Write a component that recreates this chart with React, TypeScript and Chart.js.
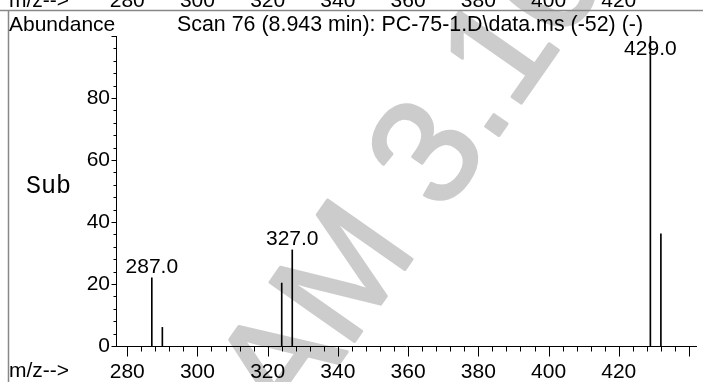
import React, { useEffect, useRef } from 'react';
import { Chart, registerables } from 'chart.js';

Chart.register(...registerables);

// ---- data ----
const peakMz = [287, 290, 324, 327, 429, 432];
const peakAbundance = [22, 6, 20.3, 31, 100, 36.2];
const labeledPeaks = [287, 327, 429];
const xTickLabels = [280, 300, 320, 340, 360, 380, 400, 420];
const yTickLabels = [0, 20, 40, 60, 80];
const titleText = 'Scan 76 (8.943 min): PC-75-1.D\\data.ms (-52) (-)';
const yAxisTitle = 'Abundance';
const xAxisTitle = 'm/z-->';
const sideLabel = 'Sub';
const watermarkText = 'AM 3.10';

// ---- axis config ----
const X_MIN = 276.8;
const X_MAX = 442;
const Y_MIN = 0;
const Y_MAX = 100;
const X_TICK_FIRST = 280;
const X_TICK_LAST = 440;
const MINOR_STEP = 4;
const MAJOR_STEP = 20;

const FONT = '"Liberation Sans", Arial, Helvetica, sans-serif';
const MONO = '"Liberation Mono", "Courier New", monospace';

function stepTicks(from: number, to: number, step: number) {
  const out: { value: number }[] = [];
  for (let v = from; v <= to + 1e-9; v += step) out.push({ value: v });
  return out;
}

const decor = {
  id: 'decor',
  beforeDraw(chart: any) {
    const ctx = chart.ctx as CanvasRenderingContext2D;
    ctx.save();
    ctx.fillStyle = '#ffffff';
    ctx.fillRect(0, 0, chart.width, chart.height);
    // watermark
    const size = 150;
    ctx.font = `${size}px ${FONT}`;
    ctx.fillStyle = '#cccccc';
    ctx.strokeStyle = '#cccccc';
    ctx.lineWidth = 3;
    ctx.lineJoin = 'round';
    ctx.translate(423, 150);
    ctx.rotate((-55 * Math.PI) / 180);
    const pre = ctx.measureText('AM ').width + ctx.measureText('3').width / 2;
    ctx.textBaseline = 'alphabetic';
    ctx.textAlign = 'left';
    ctx.fillText(watermarkText, -pre, (size * 0.716) / 2);
    ctx.strokeText(watermarkText, -pre, (size * 0.716) / 2);
    ctx.restore();
  },
  afterDraw(chart: any) {
    const ctx = chart.ctx as CanvasRenderingContext2D;
    const xs = chart.scales.x;
    const ys = chart.scales.y;
    ctx.save();
    // frame lines
    ctx.strokeStyle = '#888888';
    ctx.lineWidth = 1.5;
    ctx.beginPath();
    ctx.moveTo(0, 10.5);
    ctx.lineTo(chart.width, 10.5);
    ctx.moveTo(8.5, 10.5);
    ctx.lineTo(8.5, chart.height);
    ctx.stroke();

    // tick marks
    ctx.strokeStyle = '#000';
    ctx.lineWidth = 1;
    ctx.beginPath();
    const axisY = Math.round(ys.getPixelForValue(Y_MIN)) + 0.5;
    for (const t of xs.ticks) {
      const px = Math.round(xs.getPixelForValue(t.value)) + 0.5;
      const len = t.value % MAJOR_STEP === 0 ? 10 : 5;
      ctx.moveTo(px, axisY);
      ctx.lineTo(px, axisY + len);
    }
    const axisX = Math.round(xs.left) + 0.5;
    for (const t of ys.ticks) {
      const py = Math.round(ys.getPixelForValue(t.value)) + 0.5;
      const len = t.value % MAJOR_STEP === 0 ? 5 : 3;
      ctx.moveTo(axisX, py);
      ctx.lineTo(axisX - len, py);
    }
    ctx.stroke();

    // peak labels
    const meta = chart.getDatasetMeta(0);
    ctx.fillStyle = '#000';
    ctx.font = `21px ${FONT}`;
    ctx.textAlign = 'center';
    ctx.textBaseline = 'alphabetic';
    peakMz.forEach((mz, i) => {
      if (!labeledPeaks.includes(mz)) return;
      const el = meta.data[i];
      const y = Math.max(el.y - 5, 55);
      ctx.fillText(mz.toFixed(1), el.x, y);
    });

    // titles
    ctx.textAlign = 'left';
    ctx.fillText(yAxisTitle, 9, 31);
    ctx.fillText(xAxisTitle, 9, 377);
    // cut-off axis of previous panel at top
    ctx.fillText(xAxisTitle, 9, 7);
    ctx.textAlign = 'center';
    for (const v of xTickLabels) {
      ctx.fillText(String(v), xs.getPixelForValue(v), 7);
    }
    ctx.textAlign = 'left';
    ctx.font = `21.4px ${FONT}`;
    ctx.fillText(titleText, 177, 31);
    // side label
    ctx.font = `25px ${MONO}`;
    ctx.fillText(sideLabel, 26, 193);
    ctx.restore();
  },
};

export default function App() {
  const ref = useRef<HTMLCanvasElement | null>(null);
  useEffect(() => {
    if (!ref.current) return;
    const chart = new Chart(ref.current, {
      type: 'bar',
      data: {
        datasets: [
          {
            data: peakMz.map((m, i) => ({ x: m, y: peakAbundance[i] })),
            backgroundColor: '#000',
            borderWidth: 0,
            barThickness: 1,
            grouped: false,
          } as any,
        ],
      },
      options: {
        animation: false,
        responsive: false,
        devicePixelRatio: 1,
        layout: { padding: { top: 36, left: 0, right: 1, bottom: 0 } },
        plugins: {
          legend: { display: false },
          tooltip: { enabled: false },
          title: { display: false },
        },
        scales: {
          x: {
            type: 'linear',
            min: X_MIN,
            max: X_MAX,
            offset: false,
            grid: { display: false, drawTicks: false },
            border: { display: true, color: '#000', width: 1 },
            afterBuildTicks: (s: any) => {
              s.ticks = stepTicks(X_TICK_FIRST, X_TICK_LAST, MINOR_STEP);
            },
            afterFit: (s: any) => {
              s.height = 36;
            },
            ticks: {
              autoSkip: false,
              maxRotation: 0,
              minRotation: 0,
              padding: 14,
              color: '#000',
              font: { size: 21, family: FONT },
              callback: (v: any) => (xTickLabels.includes(Number(v)) ? String(v) : ''),
            },
          },
          y: {
            type: 'linear',
            min: Y_MIN,
            max: Y_MAX,
            grid: { display: false, drawTicks: false },
            border: { display: true, color: '#000', width: 1 },
            afterBuildTicks: (s: any) => {
              s.ticks = stepTicks(Y_MIN, Y_MAX, MINOR_STEP);
            },
            afterFit: (s: any) => {
              s.width = 116;
            },
            ticks: {
              autoSkip: false,
              padding: 6,
              color: '#000',
              font: { size: 21, family: FONT },
              callback: (v: any) => (yTickLabels.includes(Number(v)) ? String(v) : ''),
            },
          },
        },
      } as any,
      plugins: [decor],
    });
    return () => chart.destroy();
  }, []);
  return (
    <div style={{ position: 'absolute', left: 0, top: 0, width: 703, height: 382 }}>
      <canvas ref={ref} width={703} height={382} style={{ display: 'block' }} />
    </div>
  );
}
